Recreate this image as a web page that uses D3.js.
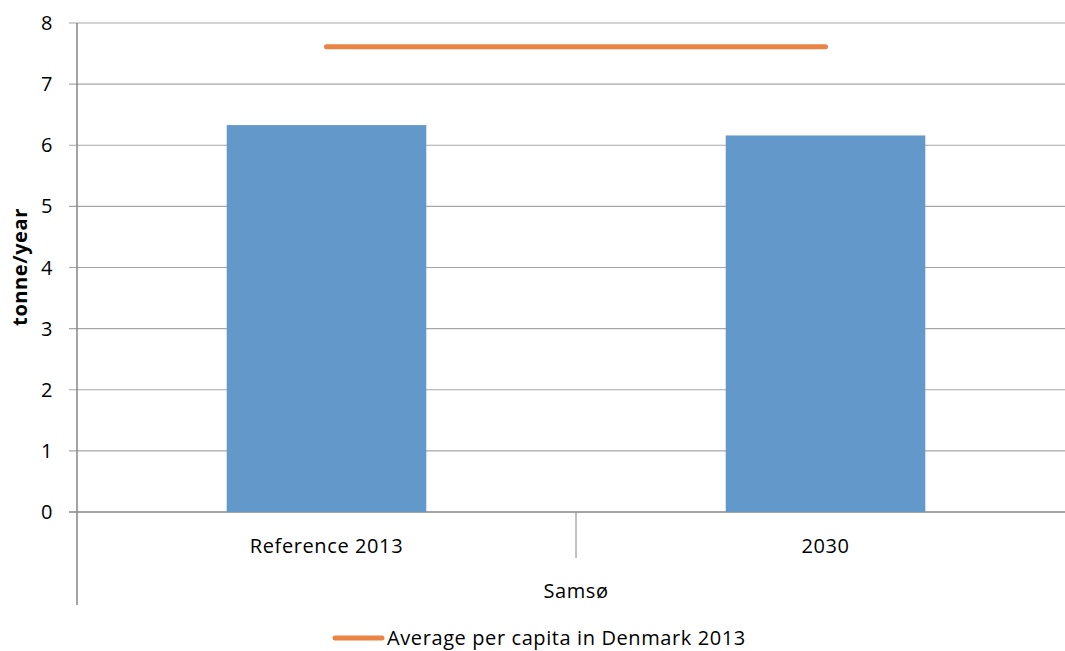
<!DOCTYPE html>
<html lang="en">
<head>
<meta charset="utf-8">
<script src="https://cdn.jsdelivr.net/npm/d3@7"></script>
<style>
    body { margin: 0; background: #fff; }
    text { font-family: "Open Sans", sans-serif; fill: #000; letter-spacing: 0.6px; }
</style>
</head>
<body>
<script>
    // chart data
    let categories = ["Reference 2013", "2030"];
    let barValues = [6.33, 6.16];
    let avgValues = [7.61, 7.61];
    let yTicks = [0, 1, 2, 3, 4, 5, 6, 7, 8];
    let groupLabel = "Samsø";
    let yTitle = "tonne/year";
    let legendLabel = "Average per capita in Denmark 2013";

    let w = 1065, h = 651;
    let plotLeft = 77, plotRight = 1075, plotTop = 23, plotBottom = 512;
    let fs = "20px";

    let svg = d3.select("body").append("svg")
        .attr("width", w)
        .attr("height", h);

    let x = d3.scaleBand()
        .domain(categories)
        .range([plotLeft, plotRight]);

    let y = d3.scaleLinear()
        .domain([0, 8])
        .range([plotBottom, plotTop]);

    let barW = x.bandwidth() * 0.4;

    // gridlines
    svg.append("g")
        .selectAll("line")
        .data(yTicks)
        .join("line")
        .attr("x1", plotLeft - 8)
        .attr("x2", plotRight)
        .attr("y1", d => y(d))
        .attr("y2", d => y(d))
        .attr("stroke", d => d == 0 ? "#868686" : "#a6a6a6")
        .attr("stroke-width", d => d == 0 ? 1.5 : 1.2);

    // bars
    svg.append("g")
        .selectAll("rect")
        .data(barValues)
        .join("rect")
        .attr("x", (d, i) => x(categories[i]) + x.bandwidth() / 2 - barW / 2)
        .attr("y", d => y(d))
        .attr("width", barW)
        .attr("height", d => plotBottom - y(d))
        .attr("fill", "#6298ca");

    // average line
    let line = d3.line()
        .x((d, i) => x(categories[i]) + x.bandwidth() / 2)
        .y(d => y(d));

    svg.append("path")
        .datum(avgValues)
        .attr("d", line)
        .attr("fill", "none")
        .attr("stroke", "#ea8444")
        .attr("stroke-width", 5)
        .attr("stroke-linecap", "round");

    // y axis line
    svg.append("line")
        .attr("x1", plotLeft).attr("x2", plotLeft)
        .attr("y1", plotTop).attr("y2", 605)
        .attr("stroke", "#868686")
        .attr("stroke-width", 1.5);

    // category separator below axis
    svg.append("line")
        .attr("x1", x(categories[1])).attr("x2", x(categories[1]))
        .attr("y1", plotBottom).attr("y2", 558)
        .attr("stroke", "#868686")
        .attr("stroke-width", 1);

    // y tick labels
    svg.append("g")
        .selectAll("text")
        .data(yTicks)
        .join("text")
        .attr("x", 53)
        .attr("y", d => y(d) + 7)
        .attr("text-anchor", "end")
        .style("font-size", fs)
        .text(d => d);

    // category labels
    svg.append("g")
        .selectAll("text")
        .data(categories)
        .join("text")
        .attr("x", d => x(d) + x.bandwidth() / 2)
        .attr("y", 553)
        .attr("text-anchor", "middle")
        .style("font-size", fs)
        .text(d => d);

    svg.append("text")
        .attr("x", x(categories[1]))
        .attr("y", 598)
        .attr("text-anchor", "middle")
        .style("font-size", fs)
        .text(groupLabel);

    // y title
    svg.append("text")
        .attr("transform", "translate(27,267) rotate(-90)")
        .attr("text-anchor", "middle")
        .style("font-size", fs)
        .style("font-weight", "bold")
        .text(yTitle);

    // legend
    svg.append("line")
        .attr("x1", 335).attr("x2", 382)
        .attr("y1", 638).attr("y2", 638)
        .attr("stroke", "#ea8444")
        .attr("stroke-width", 5)
        .attr("stroke-linecap", "round");

    svg.append("text")
        .attr("x", 387)
        .attr("y", 645)
        .style("font-size", fs)
        .text(legendLabel);
</script>
</body>
</html>
